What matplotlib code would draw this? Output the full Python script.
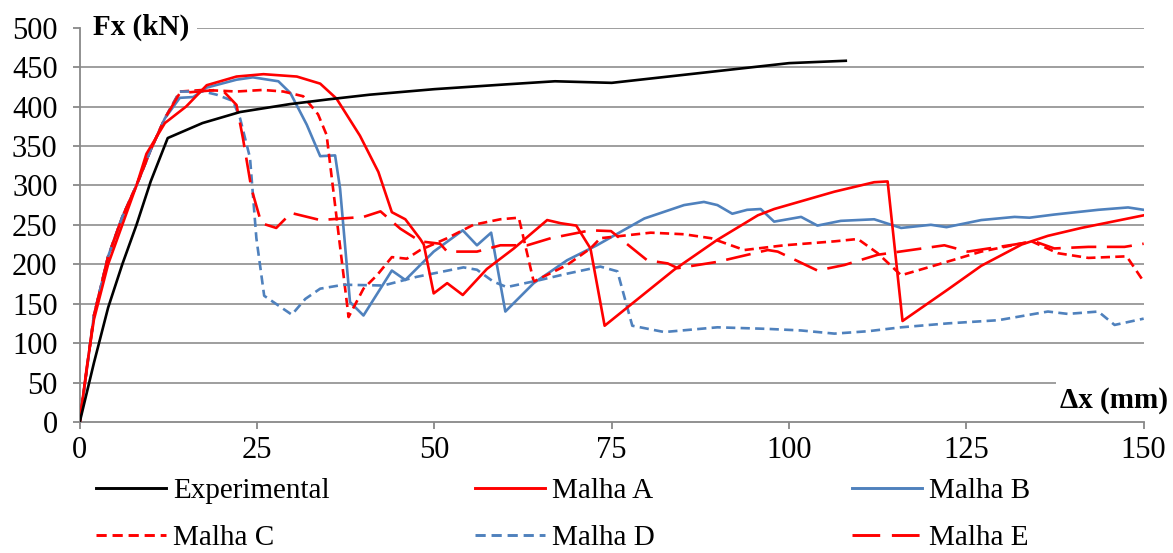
import matplotlib
matplotlib.use("Agg")
import matplotlib.pyplot as plt
from matplotlib.lines import Line2D

plt.rcParams["font.family"] = ["Liberation Serif", "DejaVu Serif"]

# load-displacement curves
exp_x = [0, 2, 4, 6, 8, 10, 12.4, 17.3, 22.6, 29.6, 35, 40.9, 50, 60, 67, 75, 85, 95, 100, 108]
exp_y = [0, 75, 145, 200, 250, 305, 360, 379, 393, 403, 409, 415, 422, 428, 432, 430, 440, 450, 455, 458]

a_x = [0, 1, 2, 4, 6, 8, 9.4, 12, 15, 17.9, 22.1, 25.9, 30.6, 33.9, 36.2, 39.5, 42.1, 44, 45.9, 48,
       48.5, 49.9, 51.8, 54, 57.4, 61.2, 65.9, 67.8, 70, 72, 74, 83.8, 89.9, 95.6, 97.9, 106.4, 112,
       113.9, 116, 122.4, 127.1, 132.8, 136.5, 141.2, 150]
a_y = [0, 70, 130, 200, 250, 300, 340, 379, 400, 427, 438, 441, 438, 429, 410, 363, 317, 266, 257, 232,
       225, 163, 176, 161, 194, 220, 256, 252, 249, 220, 122, 193, 231, 262, 270, 292, 304,
       305, 128, 168, 198, 225, 236, 246, 262]

b_x = [0, 2, 4, 6, 8, 10, 12, 14.1, 16, 17.9, 22.1, 24.4, 28, 29.7, 32, 33.9, 36, 36.7, 38.1, 40,
       44, 45.9, 49.9, 54, 56, 58, 60, 64, 68.7, 72.9, 79.6, 85.2, 88, 89.9, 92, 94.1, 96, 97.9,
       101.7, 104, 107.3, 112, 115.8, 120, 122.2, 127.1, 131.8, 133.9, 137.4, 143.6, 147.8, 150]
b_y = [0, 135, 210, 260, 300, 345, 385, 411, 412, 424, 434, 437, 432, 417, 377, 337, 338, 296, 152, 135,
       192, 180, 216, 243, 224, 240, 140, 176, 205, 224, 258, 275, 279, 275, 264, 269, 270, 254,
       260, 249, 255, 257, 246, 250, 247, 256, 260, 259, 263, 269, 272, 269]

c_x = [0, 2, 4, 6, 8, 10, 12, 14.1, 17.4, 19.9, 22.1, 25.8, 28.7, 31.5, 33.6, 34.8, 37.9, 40, 41.9,
       44, 46.1, 48, 51.8, 55.5, 59.3, 61.9, 64, 68.7, 72, 73.4, 80.5, 85.2, 89, 93.7, 99.3, 106.4,
       109.7, 112.5, 115.8, 120, 127.1, 134.2, 137.9, 142.2, 147.6, 150]
c_y = [0, 135, 210, 260, 300, 345, 385, 419, 421, 420, 419, 421, 419, 413, 390, 364, 133, 169, 186,
       209, 207, 218, 233, 250, 257, 259, 178, 199, 220, 233, 240, 238, 233, 218, 224, 229,
       232, 214, 186, 197, 216, 229, 214, 208, 210, 178]

d_x = [0, 2, 4, 6, 8, 10, 12, 14.1, 17.4, 19.3, 21.6, 22.6, 24, 24.9, 26, 29.9, 31.8, 33.9, 37.2,
       42.8, 47.5, 50.8, 54.1, 56, 58.3, 60.2, 64.9, 68.7, 73.4, 75.8, 77.9, 82.4, 89.9, 97,
       101.7, 106.4, 111.1, 115.8, 122.4, 129.5, 136.5, 139.3, 143.6, 145.9, 150]
d_y = [0, 135, 210, 260, 300, 345, 385, 419, 419, 415, 407, 385, 335, 233, 160, 136, 156, 169, 174,
       173, 184, 190, 196, 193, 178, 171, 180, 188, 197, 191, 122, 114, 120, 118,
       116, 112, 115, 120, 125, 129, 140, 137, 140, 123, 131]

e_x = [0, 2, 4, 6, 8, 10, 12, 14.1, 19.3, 20.3, 22.1, 23, 24.2, 25.6, 27.7, 29.8, 33.9, 40, 42.4,
       45.2, 48, 50.8, 51.8, 56, 59.3, 63.1, 66.4, 72, 74.9, 80, 82.9, 84.3, 89.9, 97, 98.4, 104,
       107.8, 112.5, 121.9, 125.2, 131.8, 134.6, 137.4, 142.2, 147.3, 150]
e_y = [0, 135, 210, 260, 300, 345, 385, 417, 421, 419, 402, 360, 296, 252, 246, 265, 256, 260, 267,
       245, 229, 226, 216, 216, 224, 224, 233, 243, 242, 205, 201, 195, 203, 218, 216, 192,
       199, 212, 224, 216, 225, 229, 220, 222, 222, 226]

red = "#FF0000"
blue = "#4F81BD"
lw = 1.9

fig = plt.figure(figsize=(11.73, 5.53), dpi=100)
ax = fig.add_axes([0.068, 0.237, 0.907, 0.713])

# horizontal grid, two lines broken where the axis titles sit
for v in range(50, 501, 50):
    x0, x1 = 0, 150
    if v == 500:
        x0 = 16.5
    if v == 50:
        x1 = 137.7
    ax.plot([x0, x1], [v, v], color="#969696", lw=1.3, zorder=1, solid_capstyle="butt")

ax.plot(exp_x, exp_y, color="black", lw=lw, zorder=5)
ax.plot(a_x, a_y, color=red, lw=lw, zorder=4)
ax.plot(b_x, b_y, color=blue, lw=lw, zorder=3)
ax.plot(c_x, c_y, color=red, lw=lw, dashes=(3.5, 2), zorder=3)
ax.plot(d_x, d_y, color=blue, lw=lw, dashes=(3.5, 2), zorder=3)
ax.plot(e_x, e_y, color=red, lw=lw, dashes=(9.5, 4), zorder=3)

ax.set_xlim(0, 150)
ax.set_ylim(0, 500)
ax.set_xticks(range(0, 151, 25))
ax.set_yticks(range(0, 501, 50))
for s in ["top", "right"]:
    ax.spines[s].set_visible(False)
for s in ["left", "bottom"]:
    ax.spines[s].set_color("#888888")
    ax.spines[s].set_linewidth(1.3)
ax.tick_params(axis="both", colors="#888888", length=5, width=1.3, labelsize=22, labelcolor="black")
ax.tick_params(axis="y", pad=11)
ax.tick_params(axis="x", pad=5)

ax.text(1.8, 500, "Fx (kN)", fontsize=21, fontweight="bold", ha="left", va="center")
ax.text(138.2, 27, "Δx (mm)", fontsize=21, fontweight="bold", ha="left", va="center", clip_on=False)

entries = [
    [("Experimental", dict(color="black")), ("Malha C", dict(color=red, dashes=(3.5, 2)))],
    [("Malha A", dict(color=red)), ("Malha D", dict(color=blue, dashes=(3.5, 2)))],
    [("Malha B", dict(color=blue)), ("Malha E", dict(color=red, dashes=(9.5, 4)))],
]
for left, col in zip([0.082, 0.405, 0.726], entries):
    handles = [Line2D([], [], lw=2.1, **kw) for _, kw in col]
    labels = [name for name, _ in col]
    fig.legend(handles, labels, loc="upper left", bbox_to_anchor=(left, 0.136),
               frameon=False, fontsize=21, handlelength=2.4, handletextpad=0.25,
               labelspacing=0.7, borderaxespad=0, borderpad=0)

fig.savefig("out.png", dpi=100)
